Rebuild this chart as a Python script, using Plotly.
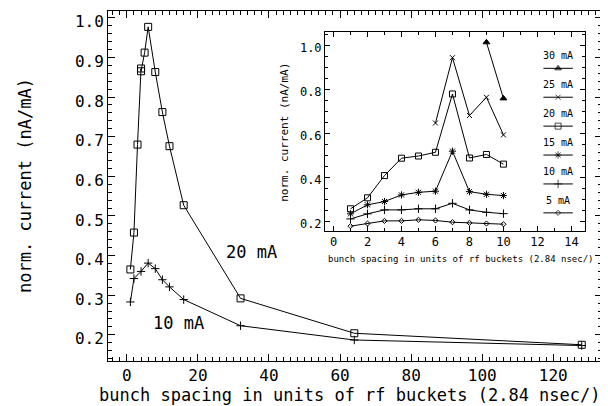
import plotly.graph_objects as go

# ---- main plot data ----
main_x_20 = [1, 2, 3, 4, 4, 5, 6, 8, 10, 12, 16, 32, 64, 128]
main_y_20 = [0.365, 0.458, 0.680, 0.872, 0.865, 0.912, 0.977, 0.863, 0.762, 0.676, 0.527, 0.292, 0.204, 0.175]
main_x_10 = [1, 2, 4, 6, 8, 10, 12, 16, 32, 64, 128]
main_y_10 = [0.283, 0.342, 0.360, 0.381, 0.367, 0.339, 0.321, 0.289, 0.223, 0.187, 0.173]

# ---- inset data ----
inset_x = [1, 2, 3, 4, 5, 6, 7, 8, 9, 10]
inset_y_5 = [0.179, 0.191, 0.203, 0.203, 0.208, 0.205, 0.197, 0.194, 0.191, 0.188]
inset_y_10 = [0.212, 0.235, 0.253, 0.253, 0.258, 0.258, 0.283, 0.253, 0.242, 0.236]
inset_y_15 = [0.235, 0.276, 0.291, 0.321, 0.333, 0.338, 0.520, 0.336, 0.324, 0.318]
inset_y_20 = [0.258, 0.308, 0.409, 0.488, 0.498, 0.515, 0.780, 0.489, 0.505, 0.461]
inset_x_25 = [6, 7, 8, 9, 10]
inset_y_25 = [0.648, 0.945, 0.682, 0.765, 0.594]
inset_x_30 = [9, 10]
inset_y_30 = [1.015, 0.760]

legend_labels = ["30 mA", "25 mA", "20 mA", "15 mA", "10 mA", "5 mA"]
legend_symbols = ["triangle-up", "x-thin-open", "square-open", "asterisk-open", "cross-thin-open", "diamond-open"]
legend_sizes = [6, 5, 6, 6, 6, 4]

FONT = "DejaVu Sans Mono"
BLK = "black"

fig = go.Figure()

# main series
fig.add_trace(go.Scatter(x=main_x_20, y=main_y_20, mode="lines+markers",
                         line=dict(color=BLK, width=1),
                         marker=dict(symbol="square-open", size=7, color=BLK, line=dict(width=1, color=BLK)),
                         xaxis="x", yaxis="y", showlegend=False))
fig.add_trace(go.Scatter(x=main_x_10, y=main_y_10, mode="lines+markers",
                         line=dict(color=BLK, width=1),
                         marker=dict(symbol="cross-thin-open", size=6, color=BLK, line=dict(width=1, color=BLK)),
                         xaxis="x", yaxis="y", showlegend=False))

# inset series
inset_series = [
    (inset_x_30, inset_y_30, 0),
    (inset_x_25, inset_y_25, 1),
    (inset_x, inset_y_20, 2),
    (inset_x, inset_y_15, 3),
    (inset_x, inset_y_10, 4),
    (inset_x, inset_y_5, 5),
]
for xs, ys, k in inset_series:
    fig.add_trace(go.Scatter(x=xs, y=ys, mode="lines+markers",
                             line=dict(color=BLK, width=1),
                             marker=dict(symbol=legend_symbols[k], size=legend_sizes[k], color=BLK,
                                         line=dict(width=1, color=BLK)),
                             xaxis="x2", yaxis="y2", showlegend=False))

# custom legend (IDL style: label above a line sample) on overlay axes
lx0, lx1 = 0.84, 0.953
lxm = (lx0 + lx1) / 2
ly_top = 0.8155
ly_step = 0.1449
for k, lab in enumerate(legend_labels):
    yy = ly_top - k * ly_step
    fig.add_trace(go.Scatter(x=[lx0, lxm, lx1], y=[yy, yy, yy], mode="lines+markers",
                             line=dict(color=BLK, width=1),
                             marker=dict(symbol=legend_symbols[k], size=[0, legend_sizes[k], 0], color=BLK,
                                         line=dict(width=1, color=BLK)),
                             xaxis="x3", yaxis="y3", showlegend=False, hoverinfo="skip"))
    fig.add_annotation(x=lxm, y=yy + 0.062, xref="x3", yref="y3", text=lab, showarrow=False,
                       font=dict(family=FONT, size=10, color=BLK), xanchor="center", yanchor="middle")

# labels in main plot
fig.add_annotation(x=35, y=0.409, xref="x", yref="y", text="20 mA", showarrow=False,
                   font=dict(family=FONT, size=17, color=BLK))
fig.add_annotation(x=14.4, y=0.231, xref="x", yref="y", text="10 mA", showarrow=False,
                   font=dict(family=FONT, size=17, color=BLK))

# axis titles
fig.add_annotation(x=0.49, y=-0.097, xref="paper", yref="paper",
                   text="bunch spacing in units of rf buckets (2.84 nsec/)", showarrow=False,
                   font=dict(family=FONT, size=17, color=BLK), xanchor="center", yanchor="middle")
fig.add_annotation(x=-0.168, y=0.5, xref="paper", yref="paper", textangle=-90,
                   text="norm. current (nA/mA)", showarrow=False,
                   font=dict(family=FONT, size=17, color=BLK), xanchor="center", yanchor="middle")
# inset titles
fig.add_annotation(x=0.715, y=0.2906, xref="paper", yref="paper",
                   text="bunch spacing in units of rf buckets (2.84 nsec/)", showarrow=False,
                   font=dict(family=FONT, size=9, color=BLK), xanchor="center", yanchor="middle")
fig.add_annotation(x=0.357, y=0.653, xref="paper", yref="paper", textangle=-90,
                   text="norm. current (nA/mA)", showarrow=False,
                   font=dict(family=FONT, size=11, color=BLK), xanchor="center", yanchor="middle")

axis_common = dict(showline=True, linecolor=BLK, linewidth=1, mirror="allticks",
                   ticks="inside", tickcolor=BLK, tickwidth=1, showgrid=False, zeroline=False)

# page body has an 8px default margin, so the figure is 8px smaller and offset
fig.update_layout(
    width=600, height=398, autosize=False,
    margin=dict(l=100, r=6, t=3, b=45),
    paper_bgcolor="white", plot_bgcolor="white",
    font=dict(family=FONT, color=BLK),
    xaxis=dict(domain=[0, 1], range=[-5.3, 133.7], tick0=0, dtick=20, ticklen=7,
               tickfont=dict(family=FONT, size=16, color=BLK),
               minor=dict(dtick=2, ticklen=4, ticks="inside", tickcolor=BLK, showgrid=False),
               **axis_common),
    yaxis=dict(domain=[0, 1], range=[0.134, 1.017], tick0=0, dtick=0.1, ticklen=7,
               tickformat=".1f", ticklabelshift=4,
               tickfont=dict(family=FONT, size=16, color=BLK),
               minor=dict(dtick=0.02, ticklen=4, ticks="inside", tickcolor=BLK, showgrid=False),
               **axis_common),
    xaxis2=dict(domain=[0.4393, 0.9656], range=[-0.5, 14.8], anchor="y2", tick0=0, dtick=2, ticklen=5,
                tickfont=dict(family=FONT, size=12, color=BLK),
                minor=dict(dtick=1, ticklen=3, ticks="inside", tickcolor=BLK, showgrid=False),
                **axis_common),
    yaxis2=dict(domain=[0.3714, 0.9414], range=[0.157, 1.064], anchor="x2", tick0=0, dtick=0.2, ticklen=5,
                tickformat=".1f", ticklabelshift=2,
                tickfont=dict(family=FONT, size=12, color=BLK),
                minor=dict(dtick=0.05, ticklen=3, ticks="inside", tickcolor=BLK, showgrid=False),
                **axis_common),
    xaxis3=dict(overlaying="x2", range=[0, 1], visible=False, anchor="y3"),
    yaxis3=dict(overlaying="y2", range=[0, 1], visible=False, anchor="x3"),
)

fig.write_html("out.html")
